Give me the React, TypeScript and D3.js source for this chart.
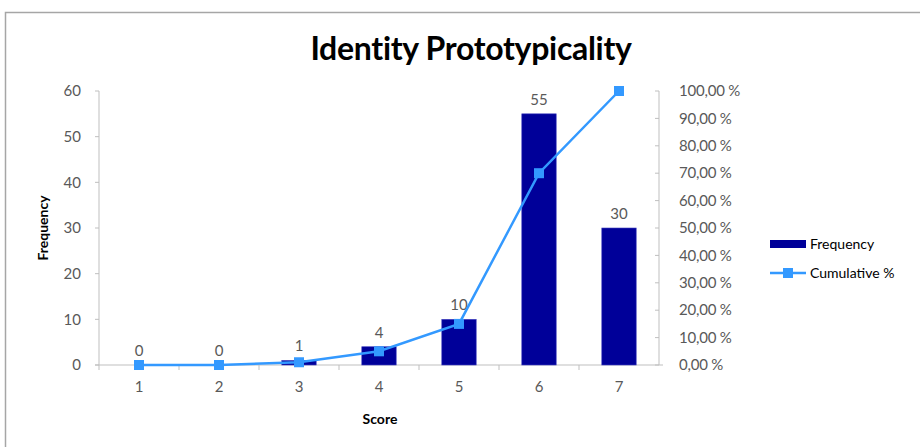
import React from "react";
import * as d3 from "d3";

const scores = ["1", "2", "3", "4", "5", "6", "7"];
const frequency = [0, 0, 1, 4, 10, 55, 30];
const cumulativePct = [0, 0, 1, 5, 15, 70, 100];
const freqTicks = [0, 10, 20, 30, 40, 50, 60];
const pctTicks = [0, 10, 20, 30, 40, 50, 60, 70, 80, 90, 100];

const W = 920;
const H = 447;
const plot = { left: 99, right: 659, top: 91, bottom: 365 };
const BAR_COLOR = "#000099";
const LINE_COLOR = "#3399FF";
const TEXT = "#595959";
const AXIS = "#BFBFBF";
const FONT = "Lato, 'Open Sans', sans-serif";

export default function App() {
  const x = d3.scaleBand<string>().domain(scores).range([plot.left, plot.right]).paddingInner(0).paddingOuter(0);
  const yL = d3.scaleLinear().domain([0, 60]).range([plot.bottom, plot.top]);
  const yR = d3.scaleLinear().domain([0, 100]).range([plot.bottom, plot.top]);
  const barW = x.bandwidth() * 0.43;
  const cx = (s: string) => (x(s) as number) + x.bandwidth() / 2;

  const line = d3
    .line<number>()
    .x((_, i) => cx(scores[i]))
    .y((d) => yR(d));

  const fmtPct = (v: number) => `${v.toFixed(2).replace(".", ",")} %`;

  return (
    <svg width={W} height={H} style={{ position: "absolute", left: 0, top: 0, background: "#fff" }} fontFamily={FONT}>
      <rect x={5.5} y={12.5} width={1000} height={600} fill="#fff" stroke="#A6A6A6" strokeWidth={1.5} />

      <text x={471} y={60} textAnchor="middle" fontSize={32} fontWeight="bold" fill="#000" letterSpacing={-0.3}>
        Identity Prototypicality
      </text>

      {/* left axis */}
      <line x1={plot.left} x2={plot.left} y1={plot.top} y2={plot.bottom} stroke={AXIS} />
      {freqTicks.map((t) => (
        <g key={`l${t}`}>
          <line x1={plot.left - 4} x2={plot.left} y1={yL(t)} y2={yL(t)} stroke={AXIS} />
          <text x={plot.left - 18} y={yL(t)} dy="0.35em" textAnchor="end" fontSize={15} fill={TEXT}>
            {t}
          </text>
        </g>
      ))}
      <text
        transform={`translate(48,${(plot.top + plot.bottom) / 2}) rotate(-90)`}
        textAnchor="middle"
        fontSize={14}
        fontWeight="bold"
        fill="#000"
      >
        Frequency
      </text>

      {/* right axis */}
      <line x1={plot.right} x2={plot.right} y1={plot.top} y2={plot.bottom} stroke={AXIS} />
      {pctTicks.map((t) => (
        <g key={`r${t}`}>
          <line x1={plot.right - 4} x2={plot.right} y1={yR(t)} y2={yR(t)} stroke={AXIS} />
          <text x={plot.right + 20} y={yR(t)} dy="0.35em" textAnchor="start" fontSize={15} fill={TEXT} letterSpacing={-0.2}>
            {fmtPct(t)}
          </text>
        </g>
      ))}

      {/* category axis */}
      <line x1={plot.left - 4} x2={plot.right + 4} y1={plot.bottom} y2={plot.bottom} stroke={AXIS} />
      {scores.map((s) => (
        <g key={`c${s}`}>
          <line x1={x(s) as number} x2={x(s) as number} y1={plot.bottom} y2={plot.bottom + 5} stroke={AXIS} />
          <text x={cx(s)} y={plot.bottom + 27} textAnchor="middle" fontSize={15} fill={TEXT}>
            {s}
          </text>
        </g>
      ))}
      <text x={380} y={424} textAnchor="middle" fontSize={14} fontWeight="bold" fill="#000">
        Score
      </text>

      {/* bars */}
      {frequency.map((v, i) => (
        <rect
          key={`b${i}`}
          x={cx(scores[i]) - barW / 2}
          y={yL(v)}
          width={barW}
          height={plot.bottom - yL(v)}
          fill={BAR_COLOR}
          stroke="#4040C0"
          strokeWidth={0.6}
        />
      ))}
      {frequency.map((v, i) => (
        <text key={`bl${i}`} x={cx(scores[i])} y={yL(v) - 9} textAnchor="middle" fontSize={15} fill={TEXT}>
          {v}
        </text>
      ))}

      {/* cumulative line */}
      <path d={line(cumulativePct) || ""} fill="none" stroke={LINE_COLOR} strokeWidth={2.5} />
      {cumulativePct.map((v, i) => (
        <rect key={`m${i}`} x={cx(scores[i]) - 5} y={yR(v) - 5} width={10} height={10} fill={LINE_COLOR} />
      ))}

      {/* legend */}
      <rect x={770} y={240} width={36} height={8} fill={BAR_COLOR} />
      <text x={810} y={244} dy="0.35em" fontSize={14} fill="#000">
        Frequency
      </text>
      <line x1={770} x2={806} y1={273} y2={273} stroke={LINE_COLOR} strokeWidth={2.5} />
      <rect x={783} y={268} width={10} height={10} fill={LINE_COLOR} />
      <text x={810} y={273} dy="0.35em" fontSize={14} fill="#000">
        Cumulative %
      </text>
    </svg>
  );
}
